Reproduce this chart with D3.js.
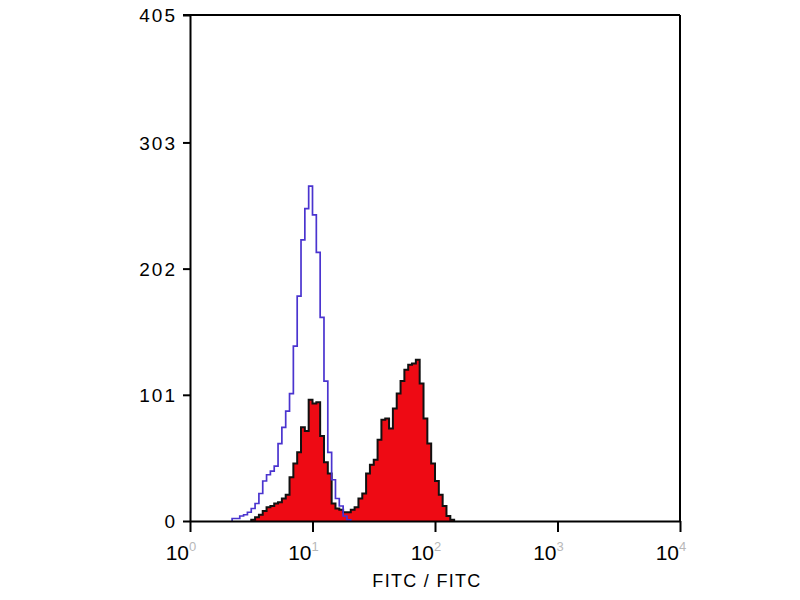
<!DOCTYPE html>
<html>
<head>
<meta charset="utf-8">
<script src="https://cdn.jsdelivr.net/npm/d3@7"></script>
<style>
  html, body { margin: 0; padding: 0; background: #fff; }
  svg { display: block; }
  text { font-family: "Liberation Sans", Arial, sans-serif; }
</style>
</head>
<body>
<svg id="chart" width="800" height="600"></svg>
<script>
// ---- data ----
const channelsPerDecade = 32;           // log bins per decade
const yTickValues = [0, 101, 202, 303, 405];
const xTickValues = [1, 10, 100, 1000, 10000];
const xTickExponents = ["0", "1", "2", "3", "4"];
const xAxisTitle = "FITC / FITC";

// isotype control (blue outline), first bin = channel 11
const blueFirstChannel = 11;
const blueCounts = [2, 2, 4, 5, 7, 10, 14, 22, 32, 37, 40, 44, 62, 75, 88, 102,
                    140, 180, 225, 250, 268, 245, 215, 163, 112, 55, 33, 18, 12, 4, 1];

// stained sample (red filled), first bin = channel 16
const redFirstChannel = 16;
const redCounts = [1, 3, 5, 8, 11, 12, 14, 15, 18, 21, 35, 46, 55, 75, 72, 97, 94, 95,
                   68, 47, 38, 14, 10, 9, 7, 7, 9, 11, 18, 22, 38, 45, 49, 65, 81, 82,
                   74, 90, 102, 112, 121, 125, 126, 129, 110, 82, 62, 46, 32, 21, 12, 4, 1];

// ---- layout ----
const svg = d3.select("#chart");
const mLeft = 190, mRight = 680, mTop = 15, mBottom = 521;

const x = d3.scaleLog().domain([1, 10000]).range([mLeft, mRight]);
const y = d3.scaleLinear().domain([0, 405]).range([mBottom, mTop]);

function stepPoints(first, counts) {
  const pts = [[Math.pow(10, first / channelsPerDecade), 0]];
  counts.forEach((c, i) => pts.push([Math.pow(10, (first + i) / channelsPerDecade), c]));
  pts.push([Math.pow(10, (first + counts.length) / channelsPerDecade), 0]);
  return pts;
}

const redPts = stepPoints(redFirstChannel, redCounts);
const bluePts = stepPoints(blueFirstChannel, blueCounts);

const area = d3.area()
  .x(d => x(d[0])).y0(y(0)).y1(d => y(d[1]))
  .curve(d3.curveStepAfter);
const line = d3.line()
  .x(d => x(d[0])).y(d => y(d[1]))
  .curve(d3.curveStepAfter);

svg.append("path").attr("d", area(redPts)).attr("fill", "#ee0a14").attr("stroke", "none");
svg.append("path").attr("d", line(redPts)).attr("fill", "none")
  .attr("stroke", "#111").attr("stroke-width", 2);
svg.append("path").attr("d", line(bluePts)).attr("fill", "none")
  .attr("stroke", "#4a34cf").attr("stroke-width", 1.7);

// ---- frame ----
svg.append("line").attr("x1", mLeft - 7).attr("x2", mRight).attr("y1", mTop).attr("y2", mTop)
  .attr("stroke", "#000").attr("stroke-width", 2);
svg.append("line").attr("x1", mRight).attr("x2", mRight).attr("y1", mTop).attr("y2", mBottom)
  .attr("stroke", "#000").attr("stroke-width", 2);

// ---- y axis ----
const yAxis = svg.append("g").attr("transform", `translate(${mLeft},0)`)
  .call(d3.axisLeft(y).tickValues(yTickValues).tickSize(7).tickSizeOuter(0).tickPadding(6));
yAxis.select(".domain").attr("stroke", "#000").attr("stroke-width", 2);
yAxis.selectAll(".tick line").attr("stroke", "#000").attr("stroke-width", 2);
yAxis.selectAll(".tick text").attr("font-size", 19).attr("fill", "#000")
  .attr("letter-spacing", "2px")
  .attr("font-family", "'Liberation Sans', Arial, sans-serif").attr("dy", "0.36em");

// ---- x axis ----
const xAxis = svg.append("g").attr("transform", `translate(0,${mBottom})`)
  .call(d3.axisBottom(x).tickValues(xTickValues).tickSize(11).tickSizeOuter(0).tickFormat(""));
xAxis.select(".domain").attr("stroke", "#000").attr("stroke-width", 2);
xAxis.selectAll(".tick line").attr("stroke", "#000").attr("stroke-width", 2);

const xl = svg.append("g");
xTickValues.forEach((v, i) => {
  xl.append("text")
    .attr("x", x(v) - 1).attr("y", 560)
    .attr("text-anchor", "end")
    .attr("font-size", 21).attr("fill", "#000")
    .text("10");
  xl.append("text")
    .attr("x", x(v) - 1).attr("y", 551)
    .attr("text-anchor", "start")
    .attr("font-size", 13).attr("fill", "#b8b8b8")
    .text(xTickExponents[i]);
});

svg.append("text")
  .attr("x", 427).attr("y", 587)
  .attr("text-anchor", "middle")
  .attr("font-size", 18).attr("fill", "#000")
  .attr("letter-spacing", "1.3px")
  .text(xAxisTitle);
</script>
</body>
</html>
